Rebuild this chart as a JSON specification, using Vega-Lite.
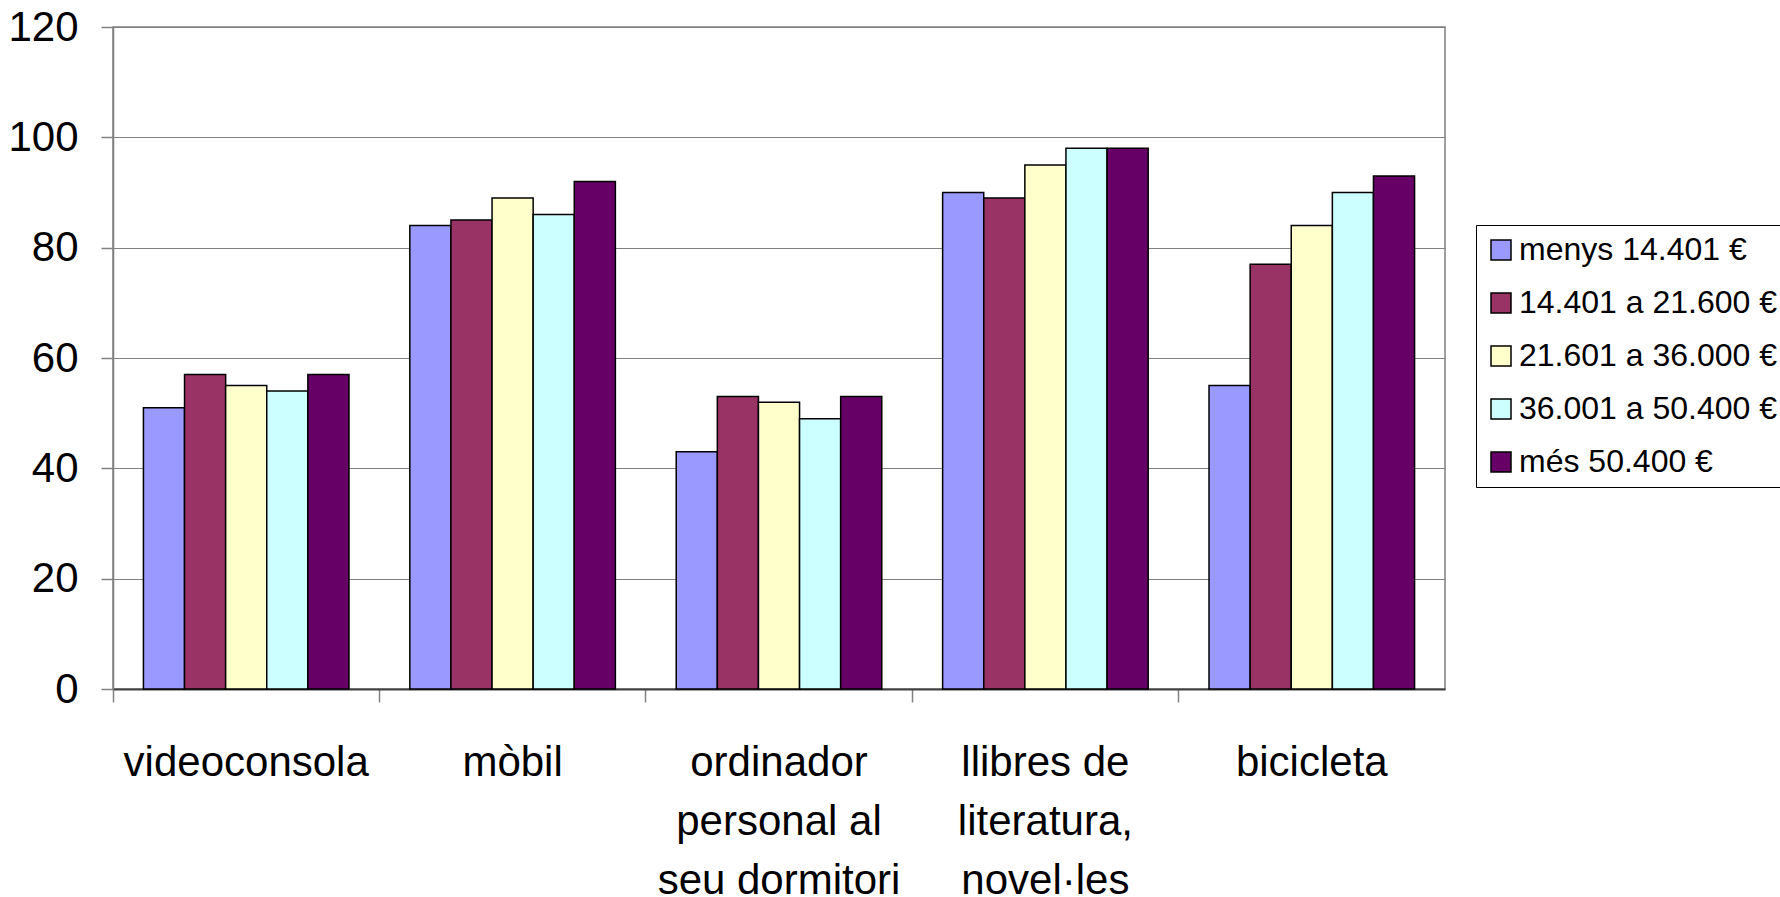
{
  "$schema": "https://vega.github.io/schema/vega-lite/v6.json",
  "width": 1332,
  "height": 662,
  "autosize": {"type": "none"},
  "padding": {"left": 113, "top": 27, "right": 335, "bottom": 208},
  "background": "white",
  "config": {"view": {"stroke": "#808080", "strokeWidth": 1.5}, "font": "Liberation Sans"},
  "data": {"values": [
    {"cat": "videoconsola", "grp": "menys 14.401 €", "v": 51},
    {"cat": "videoconsola", "grp": "14.401 a 21.600 €", "v": 57},
    {"cat": "videoconsola", "grp": "21.601 a 36.000 €", "v": 55},
    {"cat": "videoconsola", "grp": "36.001 a 50.400 €", "v": 54},
    {"cat": "videoconsola", "grp": "més 50.400 €", "v": 57},
    {"cat": "mòbil", "grp": "menys 14.401 €", "v": 84},
    {"cat": "mòbil", "grp": "14.401 a 21.600 €", "v": 85},
    {"cat": "mòbil", "grp": "21.601 a 36.000 €", "v": 89},
    {"cat": "mòbil", "grp": "36.001 a 50.400 €", "v": 86},
    {"cat": "mòbil", "grp": "més 50.400 €", "v": 92},
    {"cat": "ordinador|personal al|seu dormitori", "grp": "menys 14.401 €", "v": 43},
    {"cat": "ordinador|personal al|seu dormitori", "grp": "14.401 a 21.600 €", "v": 53},
    {"cat": "ordinador|personal al|seu dormitori", "grp": "21.601 a 36.000 €", "v": 52},
    {"cat": "ordinador|personal al|seu dormitori", "grp": "36.001 a 50.400 €", "v": 49},
    {"cat": "ordinador|personal al|seu dormitori", "grp": "més 50.400 €", "v": 53},
    {"cat": "llibres de|literatura,|novel·les", "grp": "menys 14.401 €", "v": 90},
    {"cat": "llibres de|literatura,|novel·les", "grp": "14.401 a 21.600 €", "v": 89},
    {"cat": "llibres de|literatura,|novel·les", "grp": "21.601 a 36.000 €", "v": 95},
    {"cat": "llibres de|literatura,|novel·les", "grp": "36.001 a 50.400 €", "v": 98},
    {"cat": "llibres de|literatura,|novel·les", "grp": "més 50.400 €", "v": 98},
    {"cat": "bicicleta", "grp": "menys 14.401 €", "v": 55},
    {"cat": "bicicleta", "grp": "14.401 a 21.600 €", "v": 77},
    {"cat": "bicicleta", "grp": "21.601 a 36.000 €", "v": 84},
    {"cat": "bicicleta", "grp": "36.001 a 50.400 €", "v": 90},
    {"cat": "bicicleta", "grp": "més 50.400 €", "v": 93}
  ]},
  "mark": {"type": "bar", "stroke": "black", "strokeWidth": 1.5},
  "encoding": {
    "x": {
      "field": "cat", "type": "nominal",
      "sort": ["videoconsola", "mòbil", "ordinador|personal al|seu dormitori", "llibres de|literatura,|novel·les", "bicicleta"],
      "scale": {"paddingInner": 0, "paddingOuter": 0},
      "axis": {
        "title": null, "labelAngle": 0, "labelExpr": "split(datum.label, '|')",
        "labelFont": "Liberation Sans", "labelFontSize": 42, "labelColor": "black",
        "labelLineHeight": 59, "labelPadding": 40, "labelBaseline": "top", "labelLimit": 500,
        "labelOverlap": false, "tickSize": 13, "tickColor": "#808080", "tickWidth": 1.5,
        "bandPosition": 0, "domainColor": "#404040", "domainWidth": 2, "grid": false
      }
    },
    "xOffset": {
      "field": "grp", "type": "nominal",
      "sort": ["menys 14.401 €", "14.401 a 21.600 €", "21.601 a 36.000 €", "36.001 a 50.400 €", "més 50.400 €"],
      "scale": {"paddingInner": 0, "paddingOuter": 0.74}
    },
    "y": {
      "field": "v", "type": "quantitative",
      "scale": {"domain": [0, 120], "nice": false},
      "axis": {
        "title": null, "values": [0, 20, 40, 60, 80, 100, 120],
        "labelFont": "Liberation Sans", "labelFontSize": 42, "labelColor": "black",
        "tickSize": 12, "labelPadding": 23, "tickColor": "#808080", "tickWidth": 1.5,
        "gridColor": "#808080", "gridWidth": 1.2, "domainColor": "#808080", "domainWidth": 1.5
      }
    },
    "color": {
      "field": "grp", "type": "nominal",
      "scale": {
        "domain": ["menys 14.401 €", "14.401 a 21.600 €", "21.601 a 36.000 €", "36.001 a 50.400 €", "més 50.400 €"],
        "range": ["#9999FF", "#993366", "#FFFFCC", "#CCFFFF", "#660066"]
      },
      "legend": {
        "title": null, "orient": "none", "legendX": 1363, "legendY": 198,
        "symbolType": "square", "symbolSize": 400, "symbolStrokeColor": "black", "symbolStrokeWidth": 1.5,
        "labelFont": "Liberation Sans", "labelFontSize": 32, "labelColor": "black", "labelOffset": 2,
        "labelLimit": 500, "rowPadding": 21, "padding": 9, "strokeColor": "black", "fillColor": "white"
      }
    }
  }
}
